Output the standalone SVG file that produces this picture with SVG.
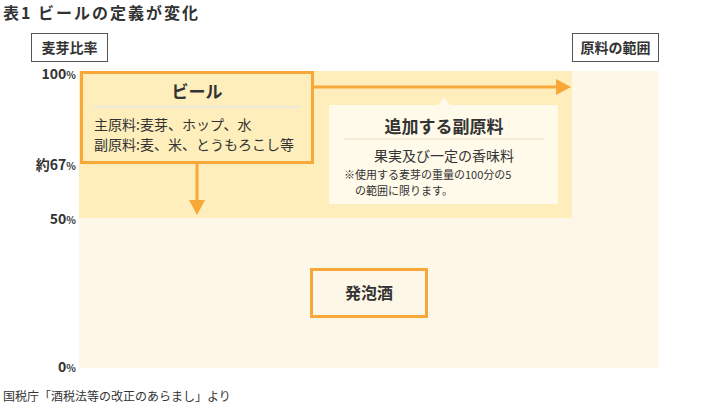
<svg xmlns="http://www.w3.org/2000/svg" width="720" height="420" viewBox="0 0 720 420">
<style>
text{font-family:"Noto Sans CJK JP","Noto Sans",sans-serif;fill:#333}
.b{font-weight:bold}
.ax{font-size:14px;font-weight:bold;text-anchor:end}
.or{stroke:#f7a838;stroke-width:3;fill:none}
.hd{fill:#f7a838}
</style>
<rect width="720" height="420" fill="#fff"/>
<text x="3" y="19" class="b" font-size="16" letter-spacing="2">表1 ビールの定義が変化</text>
<g id="ylabel"><rect x="31.5" y="33.5" width="76" height="28" fill="#fff" stroke="#555"/><text x="69.5" y="53" class="b" font-size="14" text-anchor="middle">麦芽比率</text></g>
<g id="xlabel"><rect x="572.5" y="33.5" width="86" height="28" fill="#fff" stroke="#555"/><text x="615.5" y="53" class="b" font-size="14" text-anchor="middle">原料の範囲</text></g>
<rect x="79" y="71" width="580" height="297" fill="#fdf7e7"/>
<rect x="79" y="71" width="493" height="147" fill="#fdeebb"/>
<text x="76" y="79" class="ax">100<tspan font-size="10">%</tspan></text>
<text x="76" y="170" class="ax">約67<tspan font-size="10">%</tspan></text>
<text x="76" y="224" class="ax">50<tspan font-size="10">%</tspan></text>
<text x="76" y="372" class="ax">0<tspan font-size="10">%</tspan></text>
<g id="connectors">
<line x1="197" y1="163" x2="197" y2="201" class="or" stroke-width="4"/>
<path d="M189,200 H205 L197,215Z" class="hd"/>
<line x1="313" y1="87" x2="557" y2="87" class="or" stroke-width="4"/>
<path d="M556,79 V95 L571,87Z" class="hd"/>
</g>
<g id="beer"><rect x="81.5" y="72.5" width="231" height="90" fill="#fff" class="or"/>
<text x="197" y="98" class="b" font-size="17" text-anchor="middle">ビール</text>
<line x1="94" y1="107" x2="300" y2="107" stroke="#e6e6e6" stroke-width="1.5"/>
<text x="94" y="130" font-size="14">主原料:麦芽、ホップ、水</text>
<text x="94" y="150" font-size="14">副原料:麦、米、とうもろこし等</text></g>
<g id="additive"><path d="M329,105 H438 L444,97 L450,105 H558 V204 H329Z" fill="#fffae9"/>
<text x="444" y="133" class="b" font-size="17" text-anchor="middle">追加する副原料</text>
<line x1="344" y1="139" x2="544" y2="139" stroke="#eee5cc" stroke-width="1.5"/>
<text x="444" y="161" font-size="14" text-anchor="middle">果実及び一定の香味料</text>
<text x="344" y="179" font-size="11">※使用する麦芽の重量の100分の5</text>
<text x="355" y="195" font-size="11">の範囲に限ります。</text></g>
<g id="happoshu"><rect x="311.5" y="269.5" width="115" height="47" fill="#fff" class="or"/>
<text x="369" y="299" class="b" font-size="16" text-anchor="middle">発泡酒</text></g>
<text x="3" y="401" font-size="12">国税庁「酒税法等の改正のあらまし」より</text>
</svg>
